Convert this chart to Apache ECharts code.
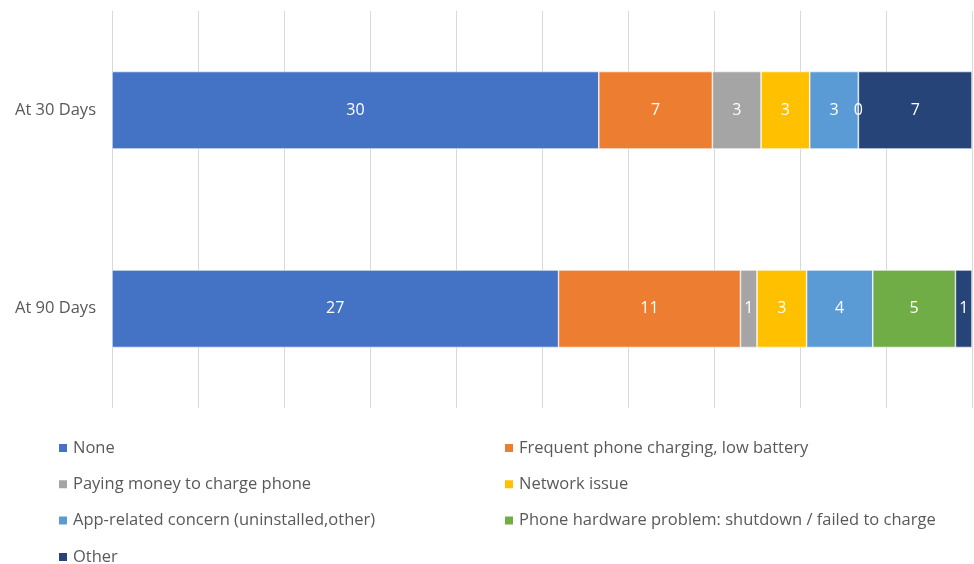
<!DOCTYPE html>
<html>
<head>
<meta charset="utf-8">
<script src="https://cdn.jsdelivr.net/npm/echarts@6/dist/echarts.min.js"></script>
<style>html,body{margin:0;padding:0;background:#fff}#c{width:974px;height:564px}</style>
</head>
<body>
<div id="c"></div>
<script>
const categories = ['At 30 Days', 'At 90 Days'];
const seriesNames = [
  'None',
  'Frequent phone charging, low battery',
  'Paying money to charge phone',
  'Network issue',
  'App-related concern (uninstalled,other)',
  'Phone hardware problem: shutdown / failed to charge',
  'Other'
];
const noneVals = [30, 27];
const chargingVals = [7, 11];
const payingVals = [3, 1];
const networkVals = [3, 3];
const appVals = [3, 4];
const hardwareVals = [0, 5];
const otherVals = [7, 1];
const colors = ['#4472C4', '#ED7D31', '#A5A5A5', '#FFC000', '#5B9BD5', '#70AD47', '#264478'];

const allVals = [noneVals, chargingVals, payingVals, networkVals, appVals, hardwareVals, otherVals];
const totals = categories.map((_, i) => allVals.reduce((s, arr) => s + arr[i], 0));
const font = '"Open Sans", "Noto Sans", sans-serif';

const series = allVals.map((arr, k) => ({
  name: seriesNames[k],
  type: 'bar',
  stack: 'total',
  barWidth: '39%',
  itemStyle: { color: colors[k], borderColor: '#ffffff', borderWidth: 0.6 },
  label: {
    show: true,
    position: 'inside',
    color: '#ffffff',
    fontSize: 16,
    fontFamily: font,
    formatter: p => String(arr[p.dataIndex])
  },
  data: arr.map((v, i) => v / totals[i] * 100)
}));

const legendCommon = {
  orient: 'vertical', top: 439, height: 300, padding: 0, itemGap: 18.3,
  itemWidth: 10, itemHeight: 10, icon: 'rect',
  textStyle: { color: '#595959', fontSize: 16.5, fontFamily: font, lineHeight: 18 }
};

const chart = echarts.init(document.getElementById('c'));
chart.setOption({
  animation: false,
  color: colors,
  grid: { left: 112, right: 2, top: 11, bottom: 156, containLabel: false },
  xAxis: {
    type: 'value', min: 0, max: 100, interval: 10,
    axisLabel: { show: false },
    axisLine: { show: false },
    axisTick: { show: false },
    splitLine: { show: true, lineStyle: { color: '#d9d9d9', width: 1 } }
  },
  yAxis: {
    type: 'category', data: categories, inverse: true,
    axisLine: { show: false },
    axisTick: { show: false },
    axisLabel: { color: '#595959', fontSize: 16.5, fontFamily: font, margin: 16 }
  },
  legend: [
    Object.assign({}, legendCommon, {
      data: [seriesNames[0], seriesNames[2], seriesNames[4], seriesNames[6]],
      left: 57
    }),
    Object.assign({}, legendCommon, {
      data: [seriesNames[1], seriesNames[3], seriesNames[5]],
      left: 503
    })
  ],
  series: series
});
</script>
</body>
</html>
